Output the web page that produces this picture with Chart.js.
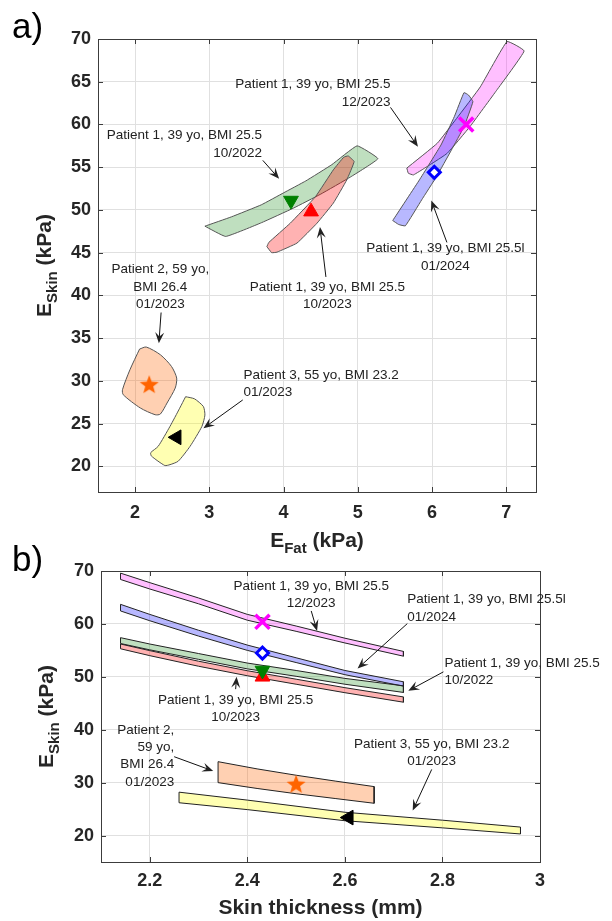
<!DOCTYPE html>
<html>
<head>
<meta charset="utf-8">
<script src="https://cdn.jsdelivr.net/npm/chart.js@4.4.1/dist/chart.umd.min.js"></script>
<style>
  html, body { margin: 0; padding: 0; background: #fff; }
  .wrap { position: absolute; left: 0; width: 612px; }
  #wrapA { top: 0; height: 560px; }
  #wrapB { top: 540px; height: 381px; }
</style>
</head>
<body>
<div class="wrap" id="wrapA"><canvas id="chartA" width="612" height="560"></canvas></div>
<div class="wrap" id="wrapB"><canvas id="chartB" width="612" height="381"></canvas></div>
<script>
// ---------- panel a) : E_Skin vs E_Fat regions ----------
const aTicksX = [2, 3, 4, 5, 6, 7];
const aTicksY = [20, 25, 30, 35, 40, 45, 50, 55, 60, 65, 70];

// outlines, walked round each region (E_Fat kPa / E_Skin kPa)
const oct22Fat = [2.94, 3.3, 3.7, 4.0, 4.3, 4.65, 4.99, 5.27, 4.9, 4.5, 4.13, 3.7, 3.22, 2.94];
const oct22Skin = [48.1, 49.2, 50.6, 52.0, 53.4, 55.3, 57.5, 56.0, 53.85, 51.85, 50.2, 48.5, 46.9, 48.1];
const oct23Fat = [3.775, 3.8, 4.09, 4.43, 4.67, 4.81, 4.87, 4.95, 4.85, 4.67, 4.45, 4.18, 3.91, 3.84, 3.775];
const oct23Skin = [45.7, 46.19, 48.45, 51.56, 54.69, 56.17, 56.32, 55.66, 53.5, 50.8, 48.45, 46.12, 45.06, 45.0, 45.7];
const jan24Fat = [5.47, 5.83, 6.12, 6.30, 6.43, 6.49, 6.55, 6.43, 6.26, 6.06, 5.86, 5.64, 5.55, 5.47];
const jan24Skin = [48.76, 53.52, 57.6, 60.92, 63.72, 63.45, 62.67, 59.75, 57.0, 53.9, 51.18, 48.14, 48.3, 48.76];
const dec23Fat = [5.66, 6.07, 6.33, 6.65, 7.01, 7.24, 6.87, 6.51, 6.2, 5.75, 5.68, 5.66];
const dec23Skin = [54.9, 57.8, 60.7, 64.4, 69.7, 68.6, 64.0, 59.75, 56.6, 54.1, 54.3, 54.9];
const p2Fat = [2.06, 2.15, 2.34, 2.49, 2.56, 2.54, 2.43, 2.34, 2.27, 2.07, 1.84, 1.83, 1.93, 2.06];
const p2Skin = [33.72, 33.96, 33.06, 31.69, 30.33, 29.16, 27.41, 26.12, 26.04, 26.83, 28.38, 28.97, 31.3, 33.72];
const p3Fat = [2.68, 2.8, 2.92, 2.94, 2.9, 2.74, 2.58, 2.47, 2.4, 2.22, 2.21, 2.31, 2.47, 2.6, 2.68];
const p3Skin = [28.15, 27.9, 27.0, 26.0, 24.68, 22.34, 20.6, 20.2, 20.1, 21.2, 21.6, 22.34, 24.68, 26.8, 28.15];

// best-fit points [E_Fat, E_Skin]
const aBest = {
  dec23: [6.46, 60.0], jan24: [6.03, 54.4], oct22: [4.10, 51.1],
  oct23: [4.37, 49.8], p2: [2.19, 29.5], p3: [2.56, 23.4]
};

// ---------- panel b) : E_Skin vs skin thickness bands ----------
const bTicksX = [2.2, 2.4, 2.6, 2.8, 3];
const bTicksY = [20, 30, 40, 50, 60, 70];

const p1Thick = [2.14, 2.2, 2.3, 2.4, 2.5, 2.6, 2.72];
const dec23Hi = [69.6, 67.8, 64.9, 61.8, 59.6, 57.3, 54.8];
const dec23Lo = [68.4, 66.6, 63.8, 60.7, 58.6, 56.4, 53.9];
const jan24Hi = [63.7, 61.8, 58.8, 56.0, 53.6, 51.2, 49.06];
const jan24Lo = [62.45, 60.6, 57.7, 55.0, 52.7, 50.4, 48.24];
const oct22Hi = [57.4, 56.2, 54.4, 52.6, 51.2, 49.7, 48.3];
const oct22Lo = [56.3, 55.1, 53.3, 51.5, 50.1, 48.6, 47.05];
const oct23Hi = [56.2, 54.95, 52.95, 51.15, 49.55, 47.95, 46.2];
const oct23Lo = [55.3, 54.0, 52.0, 50.2, 48.6, 47.0, 45.2];
const p2Thick = [2.34, 2.42, 2.5, 2.58, 2.66];
const p2Hi = [33.96, 32.6, 31.4, 30.3, 29.25];
const p2Lo = [30.0, 28.9, 27.9, 27.0, 26.1];
const p3Thick = [2.26, 2.4, 2.6, 2.8, 2.96];
const p3Hi = [28.2, 26.7, 24.4, 22.9, 21.6];
const p3Lo = [26.2, 24.9, 22.8, 21.45, 20.3];

const bBest = {
  dec23: [2.431, 60.4], jan24: [2.431, 54.5], oct22: [2.431, 51.2],
  oct23: [2.431, 50.0], p2: [2.50, 29.6], p3: [2.608, 23.4]
};

const FONT = '"Liberation Sans", Arial, Helvetica, sans-serif';
const AXIS_TXT = '#262626';

function outline(xs, ys) {
  return xs.map((x, i) => ({ x: x, y: ys[i] }));
}

function band(xs, hi, lo) {
  const pts = xs.map((x, i) => ({ x: x, y: hi[i] }));
  for (let i = xs.length - 1; i >= 0; i--) pts.push({ x: xs[i], y: lo[i] });
  pts.push(pts[0]);
  return pts;
}

function region(data, fill, edge, tension) {
  return {
    data: data, showLine: true, fill: 'shape', backgroundColor: fill,
    borderColor: edge, borderWidth: 1, pointRadius: 0, tension: tension || 0, order: 1
  };
}

function marker(pt, style, color, size, rot, bg, bw) {
  return {
    data: [{ x: pt[0], y: pt[1] }], pointStyle: style, pointRadius: size,
    pointRotation: rot || 0, backgroundColor: bg || color, borderColor: color,
    borderWidth: bw || 1, order: 0
  };
}

function starImage(r, color) {
  const c = document.createElement('canvas');
  c.width = c.height = 2 * r + 2;
  const g = c.getContext('2d');
  g.beginPath();
  for (let i = 0; i < 10; i++) {
    const a = -Math.PI / 2 + i * Math.PI / 5;
    const rr = i % 2 ? r * 0.42 : r;
    g.lineTo(r + 1 + rr * Math.cos(a), r + 1 + rr * Math.sin(a));
  }
  g.closePath();
  g.fillStyle = color;
  g.fill();
  return c;
}
const star = starImage(10, '#ff6400');

function markers(best) {
  return [
    marker(best.dec23, 'crossRot', '#ff00ff', 10, 0, null, 3.5),
    marker(best.jan24, 'rectRot', '#0000ff', 6, 0, '#ffffff', 3),
    marker(best.oct22, 'triangle', '#008000', 8.5, 180),
    marker(best.oct23, 'triangle', '#ff0000', 8.5, 0),
    marker(best.p2, star, '#ff6400', 10),
    marker(best.p3, 'triangle', '#000000', 8.5, 270)
  ];
}

// fill colours (MATLAB face colours with alpha)
const C = {
  dec23: 'rgba(255,0,255,0.25)', jan24: 'rgba(0,0,255,0.28)',
  oct22: 'rgba(0,128,0,0.25)', oct23: 'rgba(255,0,0,0.3)',
  p2: 'rgba(255,100,0,0.3)', p3: 'rgba(255,255,0,0.3)'
};

function arrow(ctx, x1, y1, x2, y2) {
  const dx = x2 - x1, dy = y2 - y1, L = Math.hypot(dx, dy);
  const ux = dx / L, uy = dy / L, hl = 11, hw = 4.5;
  ctx.beginPath();
  ctx.moveTo(x1, y1);
  ctx.lineTo(x2 - ux * 6, y2 - uy * 6);
  ctx.stroke();
  ctx.beginPath();
  ctx.moveTo(x2, y2);
  ctx.lineTo(x2 - ux * hl - uy * hw, y2 - uy * hl + ux * hw);
  ctx.lineTo(x2 - ux * hl * 0.62, y2 - uy * hl * 0.62);
  ctx.lineTo(x2 - ux * hl + uy * hw, y2 - uy * hl - ux * hw);
  ctx.closePath();
  ctx.fill();
}

function drawTitle(ctx, parts, cx, cy, rotate) {
  ctx.save();
  ctx.translate(cx, cy);
  if (rotate) ctx.rotate(-Math.PI / 2);
  const fonts = parts.map(p => 'bold ' + (p[1] ? 15 : 21) + 'px ' + FONT);
  let total = 0;
  const widths = parts.map((p, i) => { ctx.font = fonts[i]; const w = ctx.measureText(p[0]).width; total += w; return w; });
  let x = -total / 2;
  ctx.fillStyle = AXIS_TXT;
  ctx.textBaseline = 'middle';
  ctx.textAlign = 'left';
  parts.forEach((p, i) => {
    ctx.font = fonts[i];
    ctx.fillText(p[0], x, p[1] ? 8 : 0);
    x += widths[i];
  });
  ctx.restore();
}

const overlay = {
  id: 'overlay',
  afterDraw(chart, args, o) {
    const { ctx, chartArea: a, scales: { x, y } } = chart;
    ctx.save();
    // box and inward ticks
    ctx.strokeStyle = '#3c3c3c';
    ctx.lineWidth = 1;
    ctx.strokeRect(Math.round(a.left) + 0.5, Math.round(a.top) + 0.5, Math.round(a.right - a.left), Math.round(a.bottom - a.top));
    ctx.beginPath();
    o.ticksX.forEach(v => {
      const px = Math.round(x.getPixelForValue(v)) + 0.5;
      ctx.moveTo(px, a.bottom); ctx.lineTo(px, a.bottom - 5);
      ctx.moveTo(px, a.top); ctx.lineTo(px, a.top + 5);
    });
    o.ticksY.forEach(v => {
      const py = Math.round(y.getPixelForValue(v)) + 0.5;
      ctx.moveTo(a.left, py); ctx.lineTo(a.left + 5, py);
      ctx.moveTo(a.right, py); ctx.lineTo(a.right - 5, py);
    });
    ctx.stroke();

    // annotations
    ctx.font = '13.5px ' + FONT;
    ctx.fillStyle = '#222';
    ctx.strokeStyle = '#111';
    ctx.textBaseline = 'middle';
    o.notes.forEach(n => {
      ctx.textAlign = n.align;
      const tx = x.getPixelForValue(n.x), ty = y.getPixelForValue(n.y);
      n.lines.forEach((t, i) => ctx.fillText(t, tx, ty + i * 17.3));
      arrow(ctx, x.getPixelForValue(n.from[0]), y.getPixelForValue(n.from[1]),
        x.getPixelForValue(n.to[0]), y.getPixelForValue(n.to[1]));
    });

    // panel letter and axis titles
    ctx.font = '35px ' + FONT;
    ctx.fillStyle = '#000';
    ctx.textAlign = 'left';
    ctx.fillText(o.panel, 12, o.panelY);
    drawTitle(ctx, o.xTitle, (a.left + a.right) / 2, o.xTitleY, false);
    drawTitle(ctx, o.yTitle, o.yTitleX, (a.top + a.bottom) / 2, true);
    ctx.restore();
  }
};

function axis(min, max, ticks, size, pad) {
  return {
    type: 'linear', min: min, max: max,
    afterBuildTicks: s => { s.ticks = ticks.map(v => ({ value: v })); },
    afterFit: s => { if (s.isHorizontal()) s.height = size; else s.width = size; },
    grid: { color: '#e0e0e0', drawTicks: false },
    border: { display: false },
    ticks: {
      color: AXIS_TXT, padding: pad, autoSkip: false, maxRotation: 0,
      font: { family: FONT, size: 18, weight: 'bold' },
      callback: v => String(v)
    }
  };
}

function build(id, datasets, sx, sy, padding, overlayOpts) {
  return new Chart(document.getElementById(id), {
    type: 'scatter',
    data: { datasets: datasets },
    options: {
      responsive: false, animation: false, events: [],
      layout: { padding: padding },
      plugins: { legend: { display: false }, tooltip: { enabled: false }, overlay: overlayOpts },
      scales: { x: sx, y: sy }
    },
    plugins: [overlay]
  });
}

const L1 = 'Patient 1, 39 yo, BMI 25.5';

build('chartA',
  markers(aBest).concat([
    region(outline(jan24Fat, jan24Skin), C.jan24, '#555', 0.1),
    region(outline(dec23Fat, dec23Skin), C.dec23, '#555', 0.1),
    region(outline(oct23Fat, oct23Skin), C.oct23, '#555', 0.1),
    region(outline(oct22Fat, oct22Skin), C.oct22, '#555', 0.1),
    region(outline(p2Fat, p2Skin), C.p2, '#555', 0.25),
    region(outline(p3Fat, p3Skin), C.p3, '#555', 0.2)
  ]),
  axis(1.5, 7.4, aTicksX, 68, 10),
  axis(17, 70, aTicksY, 98, 7),
  { top: 39, right: 76, bottom: 0, left: 0 },
  {
    panel: 'a)', panelY: 28, ticksX: aTicksX, ticksY: aTicksY,
    xTitle: [['E', 0], ['Fat', 1], [' (kPa)', 0]], xTitleY: 541,
    yTitle: [['E', 0], ['Skin', 1], [' (kPa)', 0]], yTitleX: 45,
    notes: [
      { lines: [L1, '12/2023'], align: 'right', x: 5.44, y: 64.67, from: [5.44, 62.0], to: [5.81, 57.4] },
      { lines: [L1, '10/2022'], align: 'right', x: 3.71, y: 58.7, from: [3.72, 55.8], to: [3.94, 53.64] },
      { lines: [L1 + 'l', '01/2024'], align: 'center', x: 6.18, y: 45.47, from: [6.20, 46.2], to: [5.99, 51.1] },
      { lines: [L1, '10/2023'], align: 'center', x: 4.59, y: 40.99, from: [4.57, 42.16], to: [4.49, 48.0] },
      { lines: ['Patient 2, 59 yo,', 'BMI 26.4', '01/2023'], align: 'center', x: 2.34, y: 43.0, from: [2.35, 38.0], to: [2.32, 34.4] },
      { lines: ['Patient 3, 55 yo, BMI 23.2', '01/2023'], align: 'left', x: 3.46, y: 30.67, from: [3.45, 27.77], to: [2.92, 24.46] }
    ]
  });

build('chartB',
  markers(bBest).concat([
    region(band(p1Thick, dec23Hi, dec23Lo), C.dec23, '#222'),
    region(band(p1Thick, jan24Hi, jan24Lo), C.jan24, '#222'),
    region(band(p1Thick, oct23Hi, oct23Lo), C.oct23, '#222'),
    region(band(p1Thick, oct22Hi, oct22Lo), C.oct22, '#222'),
    region(band(p2Thick, p2Hi, p2Lo), C.p2, '#222'),
    region(band(p3Thick, p3Hi, p3Lo), C.p3, '#222')
  ]),
  axis(2.1, 3.0, bTicksX, 59, 8),
  axis(15, 70, bTicksY, 101, 7),
  { top: 31, right: 72, bottom: 0, left: 0 },
  {
    panel: 'b)', panelY: 21, ticksX: bTicksX, ticksY: bTicksY,
    xTitle: [['Skin thickness (mm)', 0]], xTitleY: 368,
    yTitle: [['E', 0], ['Skin', 1], [' (kPa)', 0]], yTitleX: 47,
    notes: [
      { lines: [L1, '12/2023'], align: 'center', x: 2.531, y: 67.1, from: [2.531, 62.45], to: [2.543, 58.68] },
      { lines: [L1 + 'l', '01/2024'], align: 'left', x: 2.728, y: 64.6, from: [2.728, 60.06], to: [2.626, 51.57] },
      { lines: [L1, '10/2022'], align: 'left', x: 2.804, y: 52.64, from: [2.802, 50.94], to: [2.73, 47.36] },
      { lines: [L1, '10/2023'], align: 'center', x: 2.376, y: 45.6, from: [2.376, 47.67], to: [2.378, 50.0] },
      { lines: ['Patient 2,', '59 yo,', 'BMI 26.4', '01/2023'], align: 'right', x: 2.25, y: 39.94, from: [2.25, 34.9], to: [2.33, 32.2] },
      { lines: ['Patient 3, 55 yo, BMI 23.2', '01/2023'], align: 'center', x: 2.778, y: 37.3, from: [2.778, 32.5], to: [2.739, 24.72] }
    ]
  });
</script>
</body>
</html>
